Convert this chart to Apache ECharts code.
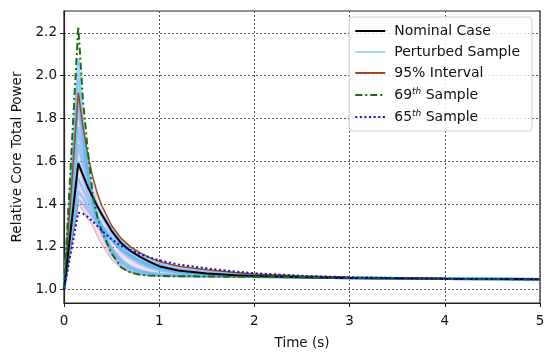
<!DOCTYPE html>
<html>
<head>
<meta charset="utf-8">
<script src="https://cdn.jsdelivr.net/npm/echarts/dist/echarts.min.js"></script>
<style>
html,body{margin:0;padding:0;background:#fff;}
#chart{width:550px;height:355px;}
</style>
</head>
<body>
<div id="chart"></div>
<script>
// time grid (s)
const T = [0, 0.15, 0.2, 0.25, 0.3, 0.35, 0.4, 0.5, 0.6, 0.7, 0.8, 0.9, 1.0, 1.2, 1.5, 1.8, 2.0, 2.5, 3.0, 4.0, 5.0];
const nominal   = [1.0, 1.59, 1.535, 1.48, 1.435, 1.39, 1.35, 1.275, 1.218, 1.18, 1.153, 1.13, 1.11, 1.09, 1.076, 1.068, 1.064, 1.058, 1.055, 1.051, 1.049];
const sample65  = [1.0, 1.36, 1.355, 1.34, 1.32, 1.298, 1.275, 1.235, 1.205, 1.185, 1.167, 1.151, 1.137, 1.118, 1.1, 1.085, 1.077, 1.065, 1.058, 1.052, 1.049];
const sample69  = [1.0, 2.23, 1.88, 1.65, 1.45, 1.34, 1.27, 1.17, 1.105, 1.08, 1.07, 1.066, 1.064, 1.063, 1.062, 1.061, 1.06, 1.058, 1.055, 1.051, 1.049];
const upper95   = [1.0, 1.92, 1.76, 1.63, 1.53, 1.45, 1.39, 1.3, 1.24, 1.2, 1.172, 1.15, 1.132, 1.11, 1.093, 1.08, 1.074, 1.064, 1.058, 1.052, 1.049];
const lower95   = [1.0, 1.4, 1.37, 1.33, 1.3, 1.25, 1.21, 1.14, 1.1, 1.08, 1.07, 1.066, 1.064, 1.063, 1.062, 1.061, 1.06, 1.058, 1.055, 1.051, 1.049];
const sample1  = [1.0, 2.08, 1.78, 1.56, 1.41, 1.32, 1.26, 1.165, 1.11, 1.085, 1.074, 1.068, 1.065, 1.063, 1.062, 1.061, 1.06, 1.058, 1.055, 1.051, 1.049];
const sample2  = [1.0, 1.98, 1.74, 1.55, 1.42, 1.33, 1.27, 1.18, 1.125, 1.097, 1.082, 1.074, 1.069, 1.065, 1.063, 1.062, 1.061, 1.058, 1.055, 1.051, 1.049];
const sample3  = [1.0, 1.86, 1.68, 1.53, 1.42, 1.34, 1.28, 1.195, 1.14, 1.108, 1.09, 1.08, 1.073, 1.067, 1.064, 1.062, 1.061, 1.058, 1.055, 1.051, 1.049];
const sample4  = [1.0, 1.76, 1.62, 1.52, 1.45, 1.39, 1.34, 1.265, 1.205, 1.165, 1.14, 1.12, 1.105, 1.087, 1.075, 1.068, 1.065, 1.058, 1.055, 1.051, 1.049];
const sample5  = [1.0, 1.68, 1.58, 1.5, 1.44, 1.39, 1.35, 1.285, 1.228, 1.19, 1.16, 1.138, 1.12, 1.099, 1.084, 1.074, 1.069, 1.06, 1.056, 1.051, 1.049];
const sample6  = [1.0, 1.52, 1.47, 1.42, 1.375, 1.335, 1.3, 1.24, 1.19, 1.155, 1.13, 1.11, 1.097, 1.082, 1.072, 1.066, 1.063, 1.058, 1.055, 1.051, 1.049];
const sample7  = [1.0, 1.46, 1.43, 1.39, 1.355, 1.32, 1.29, 1.235, 1.19, 1.158, 1.133, 1.115, 1.1, 1.085, 1.074, 1.067, 1.064, 1.059, 1.055, 1.051, 1.049];
const sample8  = [1.0, 1.42, 1.4, 1.37, 1.34, 1.31, 1.28, 1.23, 1.188, 1.157, 1.134, 1.117, 1.103, 1.088, 1.076, 1.068, 1.065, 1.059, 1.056, 1.051, 1.049];
const sample9  = [1.0, 1.92, 1.71, 1.54, 1.42, 1.335, 1.275, 1.19, 1.133, 1.102, 1.086, 1.077, 1.071, 1.066, 1.063, 1.062, 1.061, 1.058, 1.055, 1.051, 1.049];
const sample10 = [1.0, 1.6, 1.52, 1.45, 1.395, 1.345, 1.3, 1.235, 1.18, 1.145, 1.12, 1.103, 1.09, 1.078, 1.07, 1.065, 1.062, 1.058, 1.055, 1.051, 1.049];
const perturbed = [sample1, sample2, sample3, sample4, sample5, sample6, sample7, sample8, sample9, sample10];
const xTicks = [0, 1, 2, 3, 4, 5];
const yTicks = [1.0, 1.2, 1.4, 1.6, 1.8, 2.0, 2.2];
const legendNames = ['Nominal Case', 'Perturbed Sample', '95% Interval', '69th Sample', '65th Sample'];

const pairs = arr => T.map((t, i) => [t, arr[i]]);
const FONT = 'DejaVu Sans';

const series = [];
// 95% band
series.push({
  type: 'custom',
  name: '95% band',
  silent: true,
  data: [0],
  renderItem: function (params, api) {
    const pts = [];
    for (let i = 0; i < T.length; i++) pts.push(api.coord([T[i], upper95[i]]));
    for (let i = T.length - 1; i >= 0; i--) pts.push(api.coord([T[i], lower95[i]]));
    return { type: 'polygon', shape: { points: pts }, style: { fill: 'rgba(245,150,230,0.35)', stroke: null } };
  },
  clip: true
});
perturbed.forEach(s => {
  series.push({
    type: 'line', name: 'Perturbed Sample', data: pairs(s), symbol: 'none',
    lineStyle: { color: 'rgba(95,185,240,0.6)', width: 2.6 }, itemStyle: { color: 'rgba(150,200,245,0.5)' }
  });
});
series.push({
  type: 'line', name: '95% Interval', data: pairs(upper95), symbol: 'none',
  lineStyle: { color: '#9a4a1c', width: 1.5 }, itemStyle: { color: '#9a4a1c' }
});
series.push({
  type: 'line', name: '95% Interval', data: pairs(lower95), symbol: 'none',
  lineStyle: { color: '#9a4a1c', width: 1, opacity: 0.45 }, itemStyle: { color: '#9a4a1c' }
});
series.push({
  type: 'line', name: 'Nominal Case', data: pairs(nominal), symbol: 'none',
  lineStyle: { color: '#000', width: 2 }, itemStyle: { color: '#000' }
});
series.push({
  type: 'line', name: '69th Sample', data: pairs(sample69), symbol: 'none',
  lineStyle: { color: '#1f6a12', width: 2, type: [7, 3, 2, 3] }, itemStyle: { color: '#1f6a12' }
});
series.push({
  type: 'line', name: '65th Sample', data: pairs(sample65), symbol: 'none',
  lineStyle: { color: '#1010d0', width: 2, type: [2, 2.6] }, itemStyle: { color: '#1010d0' }
});

const chart = echarts.init(document.getElementById('chart'), null, { renderer: 'canvas' });
chart.setOption({
  animation: false,
  backgroundColor: '#fff',
  grid: { left: 64, right: 10, top: 11, bottom: 48, show: true, borderColor: '#222', borderWidth: 1.2, backgroundColor: 'transparent' },
  legend: {
    data: legendNames,
    orient: 'vertical',
    right: 18,
    top: 17,
    width: 180,
    padding: [7, 12, 7, 5],
    itemWidth: 30,
    itemHeight: 14,
    itemGap: 7,
    itemStyle: { opacity: 0 },
    backgroundColor: 'rgba(255,255,255,0.85)',
    borderColor: '#cfcfcf',
    borderWidth: 1,
    borderRadius: 3,
    selectedMode: false,
    formatter: function (name) {
      return name.replace(/^(\d+)th (.*)$/, '{n|$1}{sup|th}{n| $2}').replace(/^([^{].*)$/, '{n|$1}');
    },
    textStyle: {
      fontFamily: FONT, fontSize: 14, color: '#111', padding: [0, 0, 0, 4],
      rich: {
        n: { fontFamily: FONT, fontSize: 14, color: '#111', lineHeight: 16, verticalAlign: 'middle' },
        sup: { fontFamily: FONT, fontSize: 9, color: '#111', lineHeight: 16, verticalAlign: 'top', fontStyle: 'italic' }
      }
    }
  },
  xAxis: {
    type: 'value', min: 0, max: 5, interval: 1,
    name: 'Time (s)', nameLocation: 'middle', nameGap: 33,
    nameTextStyle: { fontFamily: FONT, fontSize: 13.5, color: '#111' },
    axisLine: { show: true, lineStyle: { color: '#222', width: 1.2 } },
    axisTick: { show: true, inside: false, length: 4, lineStyle: { color: '#222', width: 1 } },
    axisLabel: { fontFamily: FONT, fontSize: 13.5, color: '#111', margin: 11, customValues: xTicks },
    splitLine: { show: true, lineStyle: { color: '#555', width: 1, type: [2, 2] } }
  },
  yAxis: {
    type: 'value', min: 0.938, max: 2.302, splitNumber: 7,
    name: 'Relative Core Total Power', nameLocation: 'middle', nameGap: 38,
    nameTextStyle: { fontFamily: FONT, fontSize: 13.5, color: '#111' },
    axisLine: { show: true, lineStyle: { color: '#222', width: 1.2 } },
    axisTick: { show: true, inside: false, length: 4, customValues: yTicks, lineStyle: { color: '#222', width: 1 } },
    axisLabel: { fontFamily: FONT, fontSize: 13.5, color: '#111', margin: 7, customValues: yTicks, formatter: v => v.toFixed(1) },
    splitLine: { show: true, lineStyle: { color: '#555', width: 1, type: [2, 2] } }
  },
  series: series
});
</script>
</body>
</html>
